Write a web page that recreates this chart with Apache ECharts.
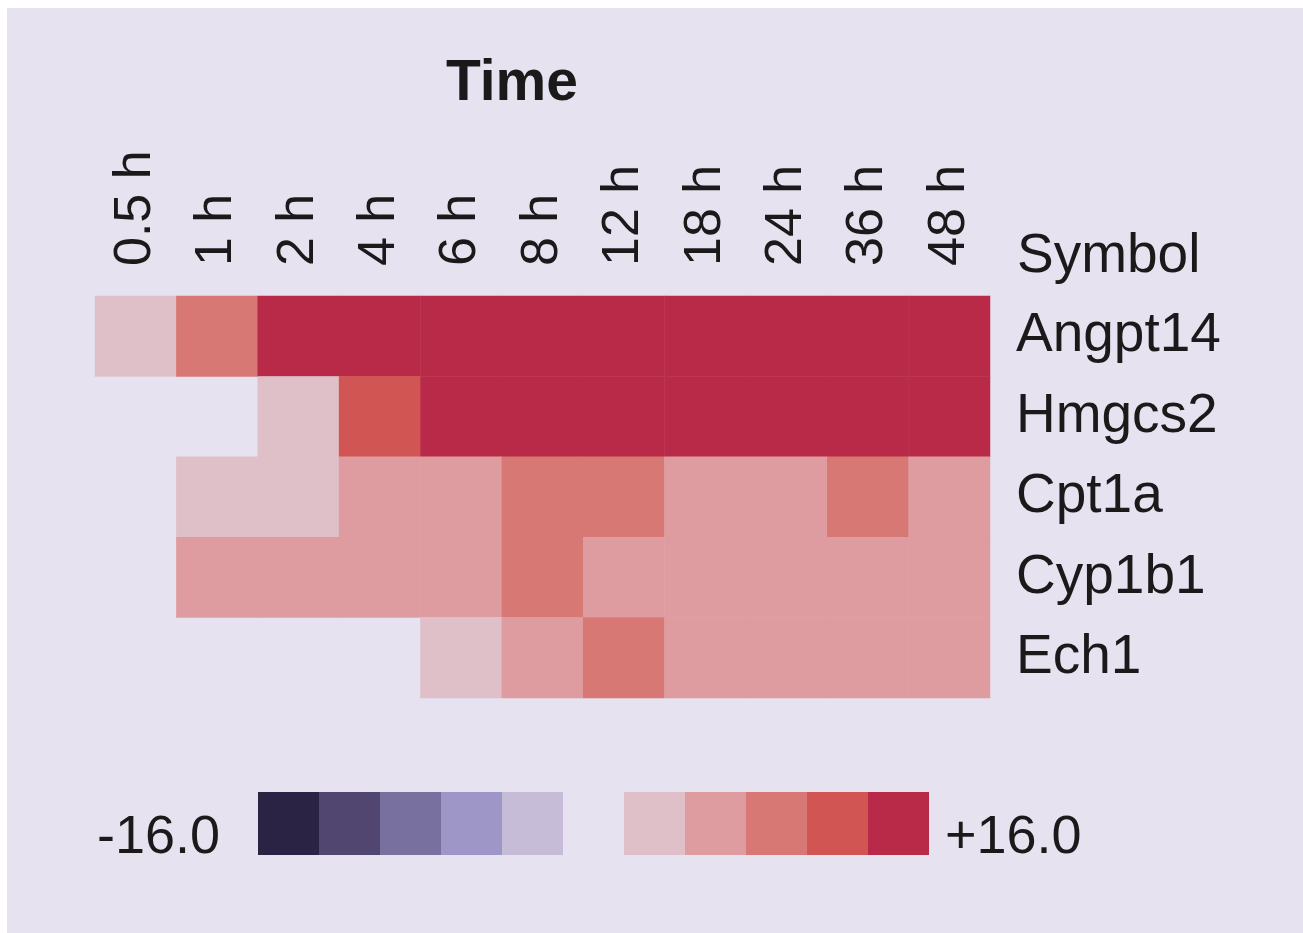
<!doctype html>
<html>
<head>
    <meta charset="utf-8">
    <script src="https://cdn.jsdelivr.net/npm/echarts@6/dist/echarts.min.js"></script>
    <style>
        html, body { margin: 0; padding: 0; background: #ffffff; }
        #heat {
            position: absolute;
            left: 7px;
            top: 8px;
            width: 1296px;
            height: 925px;
            background: #e6e2f0;
        }
    </style>
</head>
<body>
<div id="heat"></div>
<script type="text/javascript">
    // time points (columns) and genes (rows)
    var times = ['0.5 h', '1 h', '2 h', '4 h', '6 h', '8 h', '12 h', '18 h', '24 h', '36 h', '48 h'];
    var symbols = ['Angpt14', 'Hmgcs2', 'Cpt1a', 'Cyp1b1', 'Ech1'];

    // colour level per cell, -5..+5 (null = not changed / blank)
    var angpt14 = [1, 3, 5, 5, 5, 5, 5, 5, 5, 5, 5];
    var hmgcs2 = [null, null, 1, 4, 5, 5, 5, 5, 5, 5, 5];
    var cpt1a = [null, 1, 1, 2, 2, 3, 3, 2, 2, 3, 2];
    var cyp1b1 = [null, 2, 2, 2, 2, 3, 2, 2, 2, 2, 2];
    var ech1 = [null, null, null, null, 1, 2, 3, 2, 2, 2, 2];

    var scaleMin = '-16.0';
    var scaleMax = '+16.0';
    var downColors = ['#2b2343', '#514670', '#78709f', '#9e96c6', '#c6bcd7'];
    var upColors = ['#e0c0c8', '#df9ca0', '#d77874', '#d05553', '#b82a47'];

    var rows = [angpt14, hmgcs2, cpt1a, cyp1b1, ech1];
    var cells = [];
    rows.forEach(function (row, y) {
        row.forEach(function (v, x) {
            if (v !== null) cells.push([x, y, v]);
        });
    });

    // 11 legend boxes, the middle one is the background colour (the gap)
    var pieces = [];
    downColors.forEach(function (c, i) { pieces.push({ value: i - 5, color: c }); });
    pieces.push({ value: 0, color: '#e6e2f0' });
    upColors.forEach(function (c, i) { pieces.push({ value: i + 1, color: c }); });

    var fontFam = '"Liberation Sans", Arial, Helvetica, sans-serif';
    var ink = '#1a1a1a';
    var chart = echarts.init(document.getElementById('heat'));
    chart.setOption({
        animation: false,
        textStyle: { fontFamily: fontFam, color: ink },
        title: {
            text: 'Time',
            left: 434,
            top: 43,
            textStyle: { fontSize: 57, fontWeight: 'bold', color: ink, fontFamily: fontFam }
        },
        grid: { left: 88, top: 288, width: 895, height: 402 },
        xAxis: {
            type: 'category',
            position: 'top',
            data: times,
            axisLine: { show: false },
            axisTick: { show: false },
            splitLine: { show: false },
            axisLabel: { rotate: -90, fontSize: 52, margin: 30, color: ink, interval: 0, padding: [0, 0, 4, 0] }
        },
        yAxis: {
            type: 'category',
            position: 'right',
            inverse: true,
            data: symbols,
            name: 'Symbol',
            nameLocation: 'start',
            nameGap: 12,
            nameTextStyle: { fontSize: 55, color: ink, align: 'left', padding: [0, 0, 0, 27] },
            axisLine: { show: false },
            axisTick: { show: false },
            splitLine: { show: false },
            axisLabel: { fontSize: 55, margin: 26, color: ink }
        },
        visualMap: {
            type: 'piecewise',
            orient: 'horizontal',
            dimension: 2,
            pieces: pieces,
            showLabel: false,
            itemSymbol: 'rect',
            itemWidth: 61,
            itemHeight: 63,
            itemGap: 0,
            left: 236,
            top: 769
        },
        graphic: [
            { type: 'text', x: 90, y: 830, style: { text: scaleMin, font: '54px ' + fontFam, fill: ink, align: 'left', verticalAlign: 'middle' } },
            { type: 'text', x: 938, y: 830, style: { text: scaleMax, font: '54px ' + fontFam, fill: ink, align: 'left', verticalAlign: 'middle' } }
        ],
        series: [{
            type: 'heatmap',
            data: cells,
            itemStyle: { borderWidth: 0 },
            emphasis: { disabled: true }
        }]
    });
</script>
</body>
</html>
